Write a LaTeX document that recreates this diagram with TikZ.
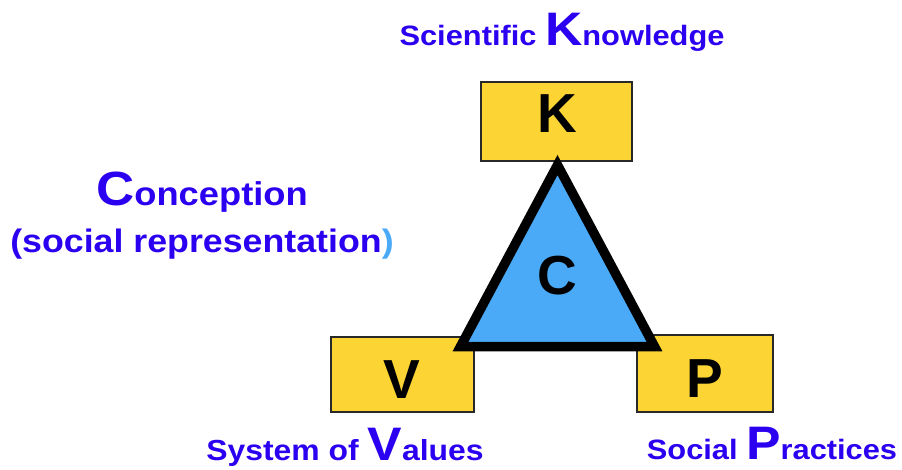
\documentclass[tikz,border=0pt]{standalone}
\usepackage{fontspec}
\setmainfont[FakeStretch=1.1]{Liberation Sans}
\newfontfamily\boxfont{Liberation Sans}
\definecolor{lblblue}{RGB}{43,0,240}
\definecolor{ltblue}{RGB}{74,170,247}
\definecolor{boxyellow}{RGB}{252,213,53}
\definecolor{boxedge}{RGB}{40,40,40}
\newcommand{\smallsz}{\fontsize{28}{30}\selectfont}
\newcommand{\bigsz}{\fontsize{47}{48}\selectfont}
\tikzset{
  ybox/.style={draw=boxedge, line width=1.5pt, fill=boxyellow},
  boxletter/.style={font=\boxfont\bfseries\fontsize{55}{56}\selectfont, inner sep=0pt, anchor=base},
  lbl/.style={text=lblblue, font=\bfseries, inner sep=0pt, anchor=base},
}
\begin{document}
\begin{tikzpicture}[x=1pt,y=-1pt]
\useasboundingbox (0,0) rectangle (902,469);
% boxes
\draw[ybox] (481,82) rectangle (632,161);
\draw[ybox] (331,337) rectangle (474,412);
\draw[ybox] (637,335) rectangle (773,412);
\node[boxletter] (k) at (557,132) {K};
\node[boxletter] (v) at (402,398) {V};
\node[boxletter] (p) at (705,397) {P};
% triangle
\coordinate (ta) at (557.5,165);
\coordinate (tl) at (460.5,346.5);
\coordinate (tr) at (654.5,346.5);
\draw[line width=9.5pt, fill=ltblue, line join=miter] (ta) -- (tl) -- (tr) -- cycle;
\node[boxletter] (c) at (557,294) {C};
% labels
\node[lbl] (sk) at (562,45) {\smallsz Scientific \bigsz K\smallsz nowledge};
\node[lbl] (co) at (202,205) {\fontsize{48}{50}\selectfont C\fontsize{33}{36}\selectfont onception};
\node[lbl] (sr) at (202,252) {\fontsize{32.5}{36}\selectfont (social representation\textcolor{ltblue}{)}};
\node[lbl] (sv) at (345,460) {\fontsize{29}{30}\selectfont System of \bigsz V\fontsize{29}{30}\selectfont alues};
\node[lbl] (sp) at (772,459) {\smallsz Social \bigsz P\smallsz ractices};
\end{tikzpicture}
\end{document}
